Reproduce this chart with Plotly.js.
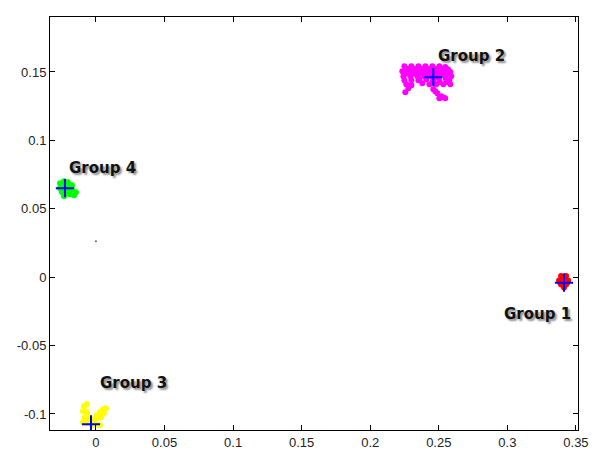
<!DOCTYPE html>
<html>
<head>
<meta charset="utf-8">
<script src="https://cdn.plot.ly/plotly-3.0.1.min.js"></script>
<style>html,body{margin:0;padding:0;background:#fff;}#chart{width:597px;height:450px;}</style>
</head>
<body>
<div id="chart"></div>
<script>
// Group 1 (red)
var g1x = [0.3392, 0.3428, 0.3377, 0.3413, 0.3443, 0.3392, 0.3428, 0.3413, 0.3405, 0.3420, 0.3385, 0.3436];
var g1y = [0.0008, 0.0008, -0.0025, -0.0017, -0.0025, -0.0054, -0.0054, -0.0076, -0.0005, -0.0040, -0.0040, -0.0040];
// Group 2 (magenta)
var g2x = [0.2249, 0.2300, 0.2351, 0.2402, 0.2453, 0.2504, 0.2547,
           0.2270, 0.2322, 0.2373, 0.2424, 0.2475, 0.2526, 0.2567,
           0.2234, 0.2285, 0.2336, 0.2387, 0.2438, 0.2489, 0.2540, 0.2584,
           0.2256, 0.2310, 0.2362, 0.2413, 0.2464, 0.2515, 0.2566,
           0.2242, 0.2293, 0.2344, 0.2394, 0.2445, 0.2496, 0.2547, 0.2591,
           0.2249, 0.2300, 0.2351, 0.2460, 0.2500, 0.2550, 0.2576,
           0.2263, 0.2431, 0.2482, 0.2533, 0.2584, 0.2456, 0.2507, 0.2558,
           0.2278, 0.2256, 0.2300, 0.2380, 0.2460, 0.2489, 0.2518, 0.2547, 0.2504, 0.2358, 0.2409, 0.2474, 0.2530];
var g2y = [0.1542, 0.1542, 0.1542, 0.1542, 0.1542, 0.1542, 0.1536,
           0.1524, 0.1524, 0.1524, 0.1524, 0.1524, 0.1524, 0.1520,
           0.1506, 0.1506, 0.1506, 0.1506, 0.1506, 0.1506, 0.1506, 0.1500,
           0.1488, 0.1488, 0.1488, 0.1488, 0.1488, 0.1488, 0.1488,
           0.1469, 0.1469, 0.1469, 0.1469, 0.1469, 0.1469, 0.1469, 0.1469,
           0.1440, 0.1440, 0.1440, 0.1440, 0.1452, 0.1452, 0.1440,
           0.1411, 0.1411, 0.1411, 0.1411, 0.1411, 0.1426, 0.1426, 0.1426,
           0.1382, 0.1352, 0.1404, 0.1418, 0.1374, 0.1345, 0.1323, 0.1308, 0.1308, 0.1447, 0.1447, 0.1360, 0.1316];
// Group 3 (yellow)
var g3x = [-0.0087, -0.0066, -0.0095, -0.0066, -0.0080, -0.0051, -0.0095, -0.0066, -0.0029, 0.0000, 0.0029,
           -0.0015, 0.0007, 0.0029, 0.0051, 0.0073, 0.0036, 0.0058, -0.0080, -0.0044, 0.0015, 0.0044];
var g3y = [-0.0943, -0.0928, -0.0980, -0.0987, -0.1023, -0.1023, -0.1060, -0.1067, -0.1082, -0.1075, -0.1082,
           -0.1038, -0.1009, -0.0987, -0.0965, -0.0958, -0.1023, -0.0994, -0.1045, -0.1050, -0.1030, -0.1005];
// Group 4 (green)
var g4x = [-0.0262, -0.0233, -0.0204, -0.0175, -0.0262, -0.0233, -0.0204, -0.0175, -0.0146, -0.0247, -0.0218, -0.0189, -0.0160, -0.0233, -0.0190, -0.0220, -0.0250];
var g4y = [0.0687, 0.0702, 0.0694, 0.0673, 0.0651, 0.0658, 0.0651, 0.0643, 0.0621, 0.0621, 0.0614, 0.0607, 0.0599, 0.0592, 0.0660, 0.0675, 0.0636];
// centroids
var cx = [0.3413, 0.2460, -0.0036, -0.0226];
var cy = [-0.0040, 0.1462, -0.1075, 0.0651];
// labels
var labels = ["Group 1", "Group 2", "Group 3", "Group 4"];
var labelX = [0.3217, 0.2736, 0.0277, 0.0050];
var labelY = [-0.0270, 0.1620, -0.0775, 0.0797];
// stray point
var strayX = [0.0];
var strayY = [0.0263];
// ticks
var xTickVals = [0, 0.05, 0.1, 0.15, 0.2, 0.25, 0.3, 0.35];
var xTickText = ["0", "0.05", "0.1", "0.15", "0.2", "0.25", "0.3", "0.35"];
var yTickVals = [-0.1, -0.05, 0, 0.05, 0.1, 0.15];
var yTickText = ["-0.1", "-0.05", "0", "0.05", "0.1", "0.15"];

function cluster(x, y, color) {
  return {x: x, y: y, type: 'scatter', mode: 'markers', hoverinfo: 'none',
          marker: {color: color, size: 6, line: {width: 0}}};
}
var traces = [
  cluster(g1x, g1y, '#ff0000'),
  cluster(g2x, g2y, '#ff00ff'),
  cluster(g3x, g3y, '#ffff00'),
  cluster(g4x, g4y, '#00ff00'),
  {x: strayX, y: strayY, type: 'scatter', mode: 'markers', marker: {color: '#666', size: 2}},
  {x: cx, y: cy, type: 'scatter', mode: 'markers',
   marker: {symbol: 'cross-thin-open', size: 13, color: '#0000ff', line: {color: '#0000ff', width: 2}}}
];
var annotations = labels.map(function (t, i) {
  return {x: labelX[i], y: labelY[i], xref: 'x', yref: 'y', text: '<b>' + t + '</b>', showarrow: false,
          font: {family: 'DejaVu Sans', size: 15, color: '#111', shadow: '2px 2px 2px rgba(0,0,0,0.45)'}};
});
var axisCommon = {showgrid: false, zeroline: false, showline: true, linecolor: '#000', linewidth: 1,
                  mirror: 'ticks', ticks: 'inside', ticklen: 5, tickcolor: '#000', tickmode: 'array',
                  tickfont: {family: 'Liberation Sans', size: 13, color: '#222'}};
var layout = {
  width: 597, height: 450, showlegend: false,
  paper_bgcolor: '#fff', plot_bgcolor: '#fff',
  margin: {l: 50, r: 19, t: 17, b: 20},
  xaxis: Object.assign({}, axisCommon, {range: [-0.0335, 0.3515], tickvals: xTickVals, ticktext: xTickText}),
  yaxis: Object.assign({}, axisCommon, {range: [-0.1117, 0.1902], tickvals: yTickVals, ticktext: yTickText}),
  annotations: annotations
};
Plotly.newPlot('chart', traces, layout, {displayModeBar: false, staticPlot: true});
</script>
</body>
</html>
